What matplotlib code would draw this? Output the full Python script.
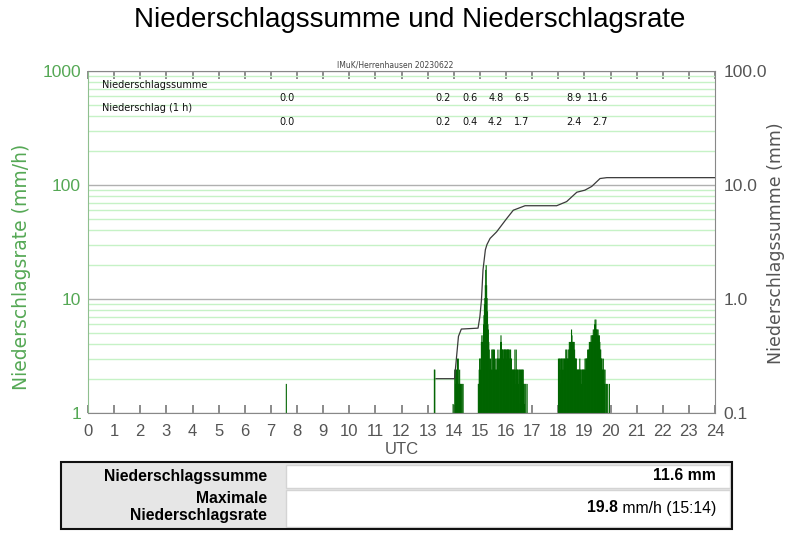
import numpy as np
import matplotlib
matplotlib.use("Agg")
import matplotlib.pyplot as plt
from matplotlib.patches import Rectangle
from matplotlib.ticker import LogLocator, NullFormatter

# ---------------- data ----------------
title = "Niederschlagssumme und Niederschlagsrate"
header = "IMuK/Herrenhausen 20230622"

# 1-minute precipitation rate (mm/h), rain segments: start minute of day + values
rain_start_min = [455, 795, 838, 842, 896, 1080]
rain_rates = [
    [1.8],
    [2.4, 2.4],
    [1.2],
    [2.4, 2.4, 1.8, 2.4, 2.4, 1.8, 3.0, 1.8, 3.0, 1.8, 1.8, 2.4, 1.8, 1.8, 0, 1.8, 0, 1.8, 0, 1.8],
    [1.8, 1.8, 2.4, 3.0, 3.0, 2.4, 3.0, 4.2, 4.8, 4.2, 4.2, 4.8, 6.0, 7.2, 9.0, 10.2, 13.2, 18.0, 19.8,
     13.2, 10.2, 7.8, 6.0, 5.4, 4.2, 3.6, 3.0, 2.4,
     3.0, 2.4, 2.4, 3.6, 3.6, 2.4, 3.6, 3.6, 2.4, 3.6, 2.4, 2.4, 3.0, 2.4, 2.4, 3.0, 3.0, 3.6, 3.0, 2.4,
     3.0, 3.0, 3.6, 4.2, 4.8, 4.2, 3.6,
     3.6, 3.6, 3.6, 3.0, 3.6, 3.6, 3.6, 3.6, 3.6, 3.0, 3.6, 3.6, 3.6, 3.6, 3.6, 3.6, 3.0, 3.6,
     3.0, 3.6, 3.0, 3.0, 2.4, 2.4, 2.4, 2.4, 2.4, 2.4, 2.4, 3.6, 2.4, 1.8, 3.6, 2.4, 2.4,
     2.4, 2.4, 1.8, 2.4, 2.4, 2.4, 1.2, 2.4, 2.4, 2.4, 1.8, 2.4, 2.4, 2.4,
     1.8, 1.8, 1.2, 1.8, 0, 1.8, 0, 0, 1.8, 0, 0],
    [3.0, 2.4, 3.0, 3.0, 2.4, 3.0, 1.8, 3.0, 3.0, 2.4, 3.0, 3.0, 2.4, 3.0, 3.0, 2.4,
     3.0, 3.6, 3.6, 3.0, 3.0,
     3.0, 3.6, 3.0, 3.6, 4.2, 3.6, 4.2, 4.2,
     4.2, 5.4, 4.8, 4.2,
     4.2, 4.2, 4.2, 4.2, 3.6,
     3.0, 3.0, 3.0, 3.0,
     2.4, 2.4, 2.4, 2.4, 2.4, 2.4, 2.4, 3.0, 2.4,
     2.4, 2.4, 1.8, 2.4, 2.4, 2.4, 2.4,
     2.4, 2.4, 2.4, 3.0, 2.4, 3.0,
     3.0, 3.0, 3.0, 3.6, 3.0, 3.6, 3.6,
     4.2, 3.6, 4.2, 4.2, 4.8, 4.2,
     4.8, 4.8, 4.8, 5.4, 4.8,
     5.4, 6.0,
     6.6, 6.0, 6.6, 5.4,
     5.4, 5.4, 4.8, 5.4,
     4.8, 4.2, 4.8, 4.2,
     3.6, 3.6, 3.0, 3.0, 3.0,
     2.4, 2.4, 3.0, 2.4,
     2.4, 1.8, 2.4, 0, 1.8, 1.8,
     0, 0, 1.8, 0, 0, 0, 1.8],
]

# cumulative precipitation (mm)
cum_hours = [13.32, 14.03, 14.18, 14.29, 14.93, 15.0, 15.06, 15.12, 15.21, 15.27, 15.39, 15.64,
             16.03, 16.28, 16.73, 17.94, 18.32, 18.71, 19.02, 19.28, 19.6, 19.86, 24.0]
cum_mm = [0.20, 0.20, 0.47, 0.545, 0.555, 0.70, 0.98, 1.8, 2.7, 3.0, 3.4, 3.88,
          5.09, 6.01, 6.58, 6.58, 7.15, 8.64, 9.01, 9.71, 11.4, 11.6, 11.6]

# hourly annotation
label_hours = [7, 13, 14, 15, 16, 18, 19]
hourly_sum_txt = ["0.0", "0.2", "0.6", "4.8", "6.5", "8.9", "11.6"]
hourly_amt_txt = ["0.0", "0.2", "0.4", "4.2", "1.7", "2.4", "2.7"]

x_ticks = list(range(25))
left_ticks = [1, 10, 100, 1000]
left_ticklabels = ["1", "10", "100", "1000"]
right_ticks = [0.1, 1, 10, 100]
right_ticklabels = ["0.1", "1.0", "10.0", "100.0"]

table_rows = ["Niederschlagssumme", "Maximale\nNiederschlagsrate"]
total_sum = "11.6 mm"
max_rate_val = "19.8"
max_rate_rest = " mm/h (15:14)"

# ---------------- style ----------------
W, H = 810, 556
GREEN_TXT = "#55a855"
GRAY_TXT = "#555555"
BAR = "#006400"
plt.rcParams["font.family"] = ["Liberation Sans", "DejaVu Sans"]

fig = plt.figure(figsize=(W / 100, H / 100), dpi=100)

def fx(x):
    return x / W

def fy(y):
    return 1 - y / H

ax = fig.add_axes([fx(88), fy(413), fx(715) - fx(88), fy(71) - fy(413)])
ax.set_yscale("log")
ax.set_xlim(0, 24)
ax.set_ylim(1, 1000)

ax.yaxis.set_minor_locator(LogLocator(base=10, subs=np.arange(2, 10)))
ax.yaxis.set_minor_formatter(NullFormatter())
ax.set_yticks(left_ticks)
ax.set_yticklabels(left_ticklabels)
ax.yaxis.grid(True, which="minor", color="#c6f2c6", lw=1.0)
ax.yaxis.grid(True, which="major", color="#b0b0b0", lw=1.0)
ax.set_axisbelow(True)
ax.tick_params(axis="y", which="both", length=0, pad=5, labelsize=12.5, labelcolor=GREEN_TXT)

ax.set_xticks(x_ticks)
ax.set_xticklabels([str(t) for t in x_ticks])
ax.tick_params(axis="x", which="major", direction="in", length=6, width=1.2, top=True,
               color="#777777", labelsize=12, labelcolor=GRAY_TXT, pad=8)
ax.set_xlabel("UTC", fontsize=12, color=GRAY_TXT, labelpad=2)

for s in ["top", "bottom", "right"]:
    ax.spines[s].set_color("#888888")
ax.spines["left"].set_color("#8fbf8f")

# rate bars (1-minute)
for start, vals in zip(rain_start_min, rain_rates):
    v = np.array(vals, dtype=float)
    t = (start + np.arange(len(v)) + 0.5) / 60.0
    m = v > 1
    ax.vlines(t[m], 1, v[m], colors=BAR, lw=0.8, snap=False, antialiased=True)

# annotations
tr = ax.get_xaxis_transform()
ax.text(0.52, 0.959, "Niederschlagssumme", transform=tr, fontsize=7, family="DejaVu Sans",
        ha="left", va="center", color="#111111")
ax.text(0.52, 0.891, "Niederschlag (1 h)", transform=tr, fontsize=7, family="DejaVu Sans",
        ha="left", va="center", color="#111111")
for h, s1, s2 in zip(label_hours, hourly_sum_txt, hourly_amt_txt):
    ax.text(h + 0.9, 0.920, s1, transform=tr, fontsize=7, family="DejaVu Sans",
            ha="right", va="center", color="#111111")
    ax.text(h + 0.9, 0.852, s2, transform=tr, fontsize=7, family="DejaVu Sans",
            ha="right", va="center", color="#111111")

# cumulative on twin axis
ax2 = ax.twinx()
ax2.set_yscale("log")
ax2.set_ylim(0.1, 100)
ax2.set_yticks(right_ticks)
ax2.set_yticklabels(right_ticklabels)
ax2.yaxis.set_minor_formatter(NullFormatter())
ax2.tick_params(axis="y", which="both", length=0, pad=6, labelsize=12.5, labelcolor=GRAY_TXT)
for s in ax2.spines.values():
    s.set_visible(False)
ax2.plot(cum_hours, cum_mm, color="#3a3a3a", lw=0.9)

# texts
fig.text(fx(410), fy(20), title, fontsize=20, ha="center", va="center", color="#000000")
fig.text(fx(395), fy(65), header, fontsize=5.5, family="DejaVu Sans", ha="center", va="center",
         color="#444444")
fig.text(fx(22), fy(267), "Niederschlagsrate (mm/h)", rotation=90, fontsize=13.5,
         family="DejaVu Sans", ha="center", va="center", color=GREEN_TXT)
fig.text(fx(776), fy(243), "Niederschlagssumme (mm)", rotation=90, fontsize=12.5,
         family="DejaVu Sans", ha="center", va="center", color=GRAY_TXT)

# table
def frect(x0, y0, x1, y1, **kw):
    r = Rectangle((fx(x0), fy(y1)), fx(x1) - fx(x0), fy(y0) - fy(y1), transform=fig.transFigure, **kw)
    fig.add_artist(r)

frect(61, 462, 732, 529, facecolor="#e6e6e6", edgecolor="none")
frect(286, 464.5, 729.5, 487.5, facecolor="white", edgecolor="#d4d4d4", lw=1)
frect(286, 490, 729.5, 526.5, facecolor="white", edgecolor="#d4d4d4", lw=1)
frect(61, 462, 732, 529, facecolor="none", edgecolor="#111111", lw=1.5)

FS = 11.3
fig.text(fx(267), fy(476), table_rows[0], fontsize=FS, fontweight="bold", ha="right", va="center")
fig.text(fx(267), fy(507), table_rows[1], fontsize=FS, fontweight="bold", ha="right", va="center",
         linespacing=1.2)
fig.text(fx(716), fy(476), total_sum, fontsize=FS, fontweight="bold", ha="right", va="center")
t_rest = fig.text(fx(716), fy(508), max_rate_rest, fontsize=FS, ha="right", va="center")
fig.canvas.draw()
bb = t_rest.get_window_extent()
fig.text(bb.x0 / (W), fy(508), max_rate_val, fontsize=FS, fontweight="bold", ha="right", va="center")

fig.savefig("out.png", dpi=100)
